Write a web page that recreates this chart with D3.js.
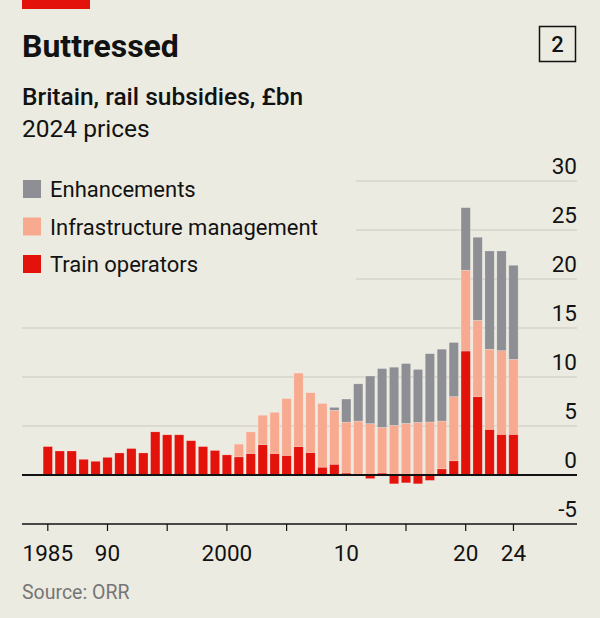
<!DOCTYPE html>
<html>
<head>
<meta charset="utf-8">
<script src="https://cdn.jsdelivr.net/npm/d3@7"></script>
<style>
  html, body { margin: 0; padding: 0; background: #ECEBE1; }
  svg { display: block; font-family: Roboto, "Noto Sans", sans-serif; }
</style>
</head>
<body>
<svg id="chart" width="600" height="618"></svg>
<script>
// values, £bn in 2024 prices
const years = d3.range(1985, 2025)
const trainOperators = [
  2.9, 2.45, 2.45, 1.6, 1.4, 1.8, 2.25, 2.7, 2.25, 4.4,
  4.1, 4.1, 3.5, 2.9, 2.5, 2.05, 1.85, 2.2, 3.1, 2.2,
  2.0, 2.9, 2.3, 0.8, 1.1, 0.2, 0, -0.37, 0.2, -0.9,
  -0.8, -0.9, -0.55, 0.63, 1.45, 12.65, 8.0, 4.66, 4.15, 4.15
]
const infrastructure = [
  0, 0, 0, 0, 0, 0, 0, 0, 0, 0,
  0, 0, 0, 0, 0, 0, 1.3, 2.2, 3.0, 4.2,
  5.8, 7.5, 6.1, 6.5, 5.5, 5.2, 5.5, 5.24, 4.66, 5.07,
  5.27, 5.37, 5.41, 4.88, 6.55, 8.25, 7.78, 8.17, 8.54, 7.65
]
const enhancements = [
  0, 0, 0, 0, 0, 0, 0, 0, 0, 0,
  0, 0, 0, 0, 0, 0, 0, 0, 0, 0,
  0, 0, 0, 0, 0.3, 2.35, 3.8, 4.86, 6.0, 5.93,
  6.1, 5.4, 6.97, 7.33, 5.52, 6.38, 8.48, 10.03, 10.17, 9.6
]
const yTicks = [-5, 0, 5, 10, 15, 20, 25, 30]
const xTicks = [1985, 1990, 1995, 2000, 2005, 2010, 2015, 2020, 2024]
const xTickLabels = { 1985: '1985', 1990: '90', 2000: '2000', 2010: '10', 2020: '20', 2024: '24' }
const legendLabels = ['Enhancements', 'Infrastructure management', 'Train operators']

const colors = {
  background: '#ECEBE1',
  train: '#E3120B',
  infra: '#F7AA90',
  enh: '#8E8F94',
  grid: '#C9C8BF',
  ink: '#121212'
}

const svg = d3.select('#chart')
svg.append('rect').attr('width', 600).attr('height', 618).attr('fill', colors.background)

// header
svg.append('rect').attr('x', 22).attr('y', 0).attr('width', 68).attr('height', 9).attr('fill', colors.train)
svg.append('text').attr('x', 22).attr('y', 57)
  .attr('font-size', 32).attr('font-weight', 700).attr('fill', colors.ink)
  .text('Buttressed')
svg.append('rect').attr('x', 539.5).attr('y', 26.5).attr('width', 36).attr('height', 35)
  .attr('fill', 'none').attr('stroke', colors.ink).attr('stroke-width', 1.5)
svg.append('text').attr('x', 557.5).attr('y', 52).attr('text-anchor', 'middle')
  .attr('font-size', 22).attr('font-weight', 500).attr('fill', colors.ink).text('2')
svg.append('text').attr('x', 22).attr('y', 105)
  .attr('font-size', 24.5).attr('font-weight', 500).attr('fill', colors.ink)
  .text('Britain, rail subsidies, £bn')
svg.append('text').attr('x', 22).attr('y', 137)
  .attr('font-size', 24.5).attr('fill', colors.ink)
  .text('2024 prices')

// scales
const step = 11.94
const x = d3.scaleBand().domain(years)
  .range([47.8 - step / 2, 47.8 + step * (years.length - 0.5)])
  .paddingInner(0.22).paddingOuter(0.11)
const y = d3.scaleLinear().domain([-5, 30]).range([524, 181])

// gridlines
const grid = svg.append('g')
yTicks.filter(d => d > 0).forEach(d => {
  grid.append('line')
    .attr('x1', d >= 20 ? 356 : 22).attr('x2', 577)
    .attr('y1', y(d)).attr('y2', y(d))
    .attr('stroke', colors.grid).attr('stroke-width', 1.2)
})

// y labels
svg.append('g').selectAll('text').data(yTicks).join('text')
  .attr('x', 577).attr('y', d => y(d) - 7)
  .attr('text-anchor', 'end').attr('font-size', 22.5).attr('fill', colors.ink)
  .text(d => d)

// stacked bars
const rows = years.map((yr, i) => ({
  year: yr, train: trainOperators[i], infra: infrastructure[i], enh: enhancements[i]
}))
const keys = ['train', 'infra', 'enh']
const series = d3.stack().keys(keys).offset(d3.stackOffsetDiverging)(rows)

svg.append('g').selectAll('g').data(series).join('g')
  .attr('fill', d => colors[d.key])
  .selectAll('rect').data(d => d.filter(p => p[1] - p[0] !== 0)).join('rect')
  .attr('x', d => x(d.data.year))
  .attr('width', x.bandwidth())
  .attr('y', d => y(Math.max(d[0], d[1])))
  .attr('height', d => Math.abs(y(d[0]) - y(d[1])))
  .attr('stroke', 'rgba(255,255,255,0.35)').attr('stroke-width', 0.6)

// zero line
svg.append('line').attr('x1', 22).attr('x2', 577).attr('y1', y(0)).attr('y2', y(0))
  .attr('stroke', colors.ink).attr('stroke-width', 2)

// bottom axis
const xAxis = svg.append('g')
xAxis.append('line').attr('x1', 22).attr('x2', 577).attr('y1', y(-5)).attr('y2', y(-5))
  .attr('stroke', colors.ink).attr('stroke-width', 1.5)
xAxis.selectAll('line.tick').data(xTicks).join('line').attr('class', 'tick')
  .attr('x1', d => x(d) + x.bandwidth() / 2).attr('x2', d => x(d) + x.bandwidth() / 2)
  .attr('y1', y(-5)).attr('y2', y(-5) + 7)
  .attr('stroke', colors.ink).attr('stroke-width', 1.2)
xAxis.selectAll('text').data(xTicks.filter(d => xTickLabels[d])).join('text')
  .attr('x', d => x(d) + x.bandwidth() / 2).attr('y', 561)
  .attr('text-anchor', 'middle').attr('font-size', 22.5).attr('fill', colors.ink)
  .text(d => xTickLabels[d])

// legend
const legendColors = [colors.enh, colors.infra, colors.train]
const legend = svg.append('g').selectAll('g').data(legendLabels).join('g')
  .attr('transform', (d, i) => `translate(23, ${180 + i * 37.5})`)
legend.append('rect').attr('width', 18).attr('height', 18).attr('fill', (d, i) => legendColors[i])
legend.append('text').attr('x', 27).attr('y', 17)
  .attr('font-size', 22).attr('fill', colors.ink).text(d => d)

// source
svg.append('text').attr('x', 22).attr('y', 599)
  .attr('font-size', 19.5).attr('fill', '#767676').text('Source: ORR')
</script>
</body>
</html>
